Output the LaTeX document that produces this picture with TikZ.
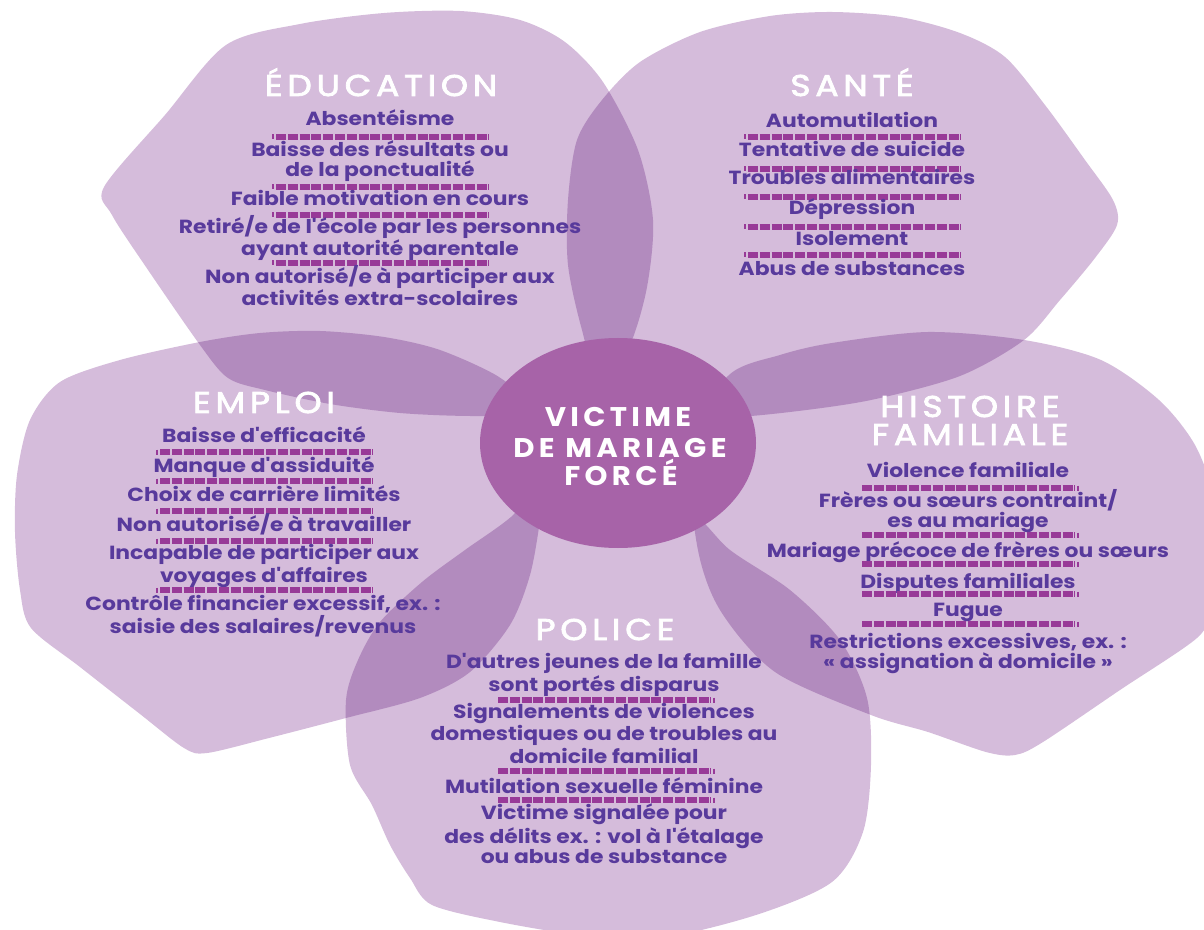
\documentclass[tikz,border=0pt]{standalone}
\usepackage{fontspec}
\setmainfont{Poppins}[FakeStretch=1.15, Ligatures=TeXOff]
\newfontfamily\titlefont{Poppins}[LetterSpace=16, FakeStretch=1.15, FakeBold=2.6]
\newfontfamily\corefont{Poppins}[LetterSpace=16, FakeStretch=1.08]
\definecolor{petal}{RGB}{213,188,219}
\definecolor{petaldark}{RGB}{178,139,190}
\definecolor{core}{RGB}{167,99,168}
\definecolor{txt}{RGB}{88,58,156}
\definecolor{sepc}{RGB}{152,58,152}
\tikzset{
  item/.style={anchor=base, align=center, text=txt, inner sep=0pt,
    font=\bfseries\fontsize{9.5}{10}\selectfont},
  ptitle/.style={anchor=base, align=center, text=white, inner sep=0pt,
    font=\titlefont\fontsize{15}{14}\selectfont},
  coretext/.style={anchor=base, align=center, text=white, inner sep=0pt,
    font=\corefont\bfseries\fontsize{13.5}{15}\selectfont},
  sepline/.style={draw=sepc, line width=2.6pt, dash pattern=on 5pt off 0.9pt},
  septick/.style={draw=sepc, line width=0.6pt}
}
% separator, tick on the left
\newcommand\sepl[2]{%
  \draw[sepline] (#1-105,#2) -- (#1+108,#2);
  \draw[septick] (#1-108,#2-2.5) -- (#1-108,#2+2.5);}
% separator, tick on the right
\newcommand\sepr[2]{%
  \draw[sepline] (#1-108,#2) -- (#1+105,#2);
  \draw[septick] (#1+108,#2-2.5) -- (#1+108,#2+2.5);}
\def\pEdu{plot[smooth cycle] coordinates {(226,45) (300,24) (384,13) (460,11) (520,20) (565,42) (603,82) (638,150) (653,220) (647,287) (630,345) (600,395) (540,414) (470,416) (400,413) (330,404) (265,390) (228,378) (200,345) (146,267) (112,215) (104,187) (165,115)}}
\def\pSan{plot[smooth cycle] coordinates {(600,380) (582,330) (568,265) (568,200) (577,140) (602,100) (640,62) (700,32) (770,16) (832,12) (900,17) (960,33) (1005,57) (1045,105) (1085,160) (1113,200) (1117,225) (1095,258) (1060,300) (1024,340) (960,376) (871,400) (790,412) (720,418) (660,415)}}
\def\pHis{plot[smooth cycle] coordinates {(690,440) (729,375) (780,355) (832,343) (928,332) (1024,340) (1101,360) (1159,400) (1195,445) (1215,500) (1220,560) (1210,610) (1197,638) (1120,690) (1043,742) (1015,755) (986,752) (928,732) (871,715) (775,672) (720,610) (697,545)}}
\def\pPol{plot[smooth cycle] coordinates {(560,470) (511,517) (465,550) (422,582) (380,622) (358,660) (346,700) (350,765) (372,805) (390,845) (410,878) (432,905) (500,922) (580,935) (660,938) (756,915) (832,882) (863,832) (871,765) (867,698) (840,640) (790,590) (730,550) (680,505)}}
\def\pEmp{plot[smooth cycle] coordinates {(545,470) (525,405) (499,377) (440,350) (384,337) (320,331) (260,333) (200,342) (120,360) (60,382) (30,420) (17,475) (15,532) (20,590) (31,628) (80,667) (140,714) (184,748) (207,753) (269,738) (346,718) (420,698) (470,672) (510,625) (530,575) (540,520)}}
\begin{document}
\begin{tikzpicture}[x=0.5pt,y=-0.5pt]
\useasboundingbox (0,0) rectangle (1204,930);
\clip (0,0) rectangle (1204,930);
% petals
\fill[petal] \pEdu;
\fill[petal] \pSan;
\fill[petal] \pHis;
\fill[petal] \pPol;
\fill[petal] \pEmp;
% overlaps
\begin{scope}\clip \pEdu; \fill[petaldark] \pSan; \end{scope}
\begin{scope}\clip \pSan; \fill[petaldark] \pHis; \end{scope}
\begin{scope}\clip \pHis; \fill[petaldark] \pPol; \end{scope}
\begin{scope}\clip \pPol; \fill[petaldark] \pEmp; \end{scope}
\begin{scope}\clip \pEmp; \fill[petaldark] \pEdu; \end{scope}
% centre
\fill[core] (618,443) ellipse [x radius=138, y radius=105];
\node[coretext] (core1) at (618,427) {VICTIME};
\node[coretext] (core2) at (620,457) {DE MARIAGE};
\node[coretext] (core3) at (621,485) {FORCÉ};
% Education
\node[ptitle] (edt) at (381,96) {ÉDUCATION};
\node[item] (ed1) at (380,126) {Absentéisme};
\sepl{381}{137}
\node[item] (ed2) at (380,177) {Baisse des résultats ou\\de la ponctualité};
\sepl{381}{187}
\node[item] (ed3) at (380,206) {Faible motivation en cours};
\sepl{381}{215}
\node[item] (ed4) at (380,256) {Retiré/e de l'école par les personnes\\ayant autorité parentale};
\sepl{381}{263}
\node[item] (ed5) at (380,306) {Non autorisé/e à participer aux\\activités extra-scolaires};
% Sante
\node[ptitle] (sat) at (852,96) {SANTÉ};
\node[item] (sa1) at (852,128) {Automutilation};
\sepl{853}{137}
\node[item] (sa2) at (852,157) {Tentative de suicide};
\sepl{853}{169}
\node[item] (sa3) at (852,185) {Troubles alimentaires};
\sepl{853}{197}
\node[item] (sa4) at (852,215) {Dépression};
\sepl{853}{227}
\node[item] (sa5) at (852,246) {Isolement};
\sepl{853}{255}
\node[item] (sa6) at (852,276) {Abus de substances};
% Emploi
\node[ptitle] (emt) at (264,413) {EMPLOI};
\node[item] (em1) at (264,443) {Baisse d'efficacité};
\sepl{265}{452}
\node[item] (em2) at (264,472) {Manque d'assiduité};
\sepl{265}{481}
\node[item] (em3) at (264,501) {Choix de carrière limités};
\sepl{265}{511}
\node[item] (em4) at (264,531) {Non autorisé/e à travailler};
\sepl{265}{541}
\node[item] (em5) at (264,582) {Incapable de participer aux\\voyages d'affaires};
\sepl{265}{590}
\node[item] (em6) at (263,633) {Contrôle financier excessif, ex. :\\saisie des salaires/revenus};
% Histoire familiale
\node[ptitle] (hit1) at (970,417) {HISTOIRE};
\node[ptitle] (hit2) at (970,445) {FAMILIALE};
\node[item] (hi1) at (968,477) {Violence familiale};
\sepr{970}{488}
\node[item] (hi2) at (968,527) {Frères ou sœurs contraint/\\es au mariage};
\sepr{970}{535}
\node[item] (hi3) at (968,557) {Mariage précoce de frères ou sœurs};
\sepr{970}{564}
\node[item] (hi4) at (968,588) {Disputes familiales};
\sepr{970}{594}
\node[item] (hi5) at (968,616) {Fugue};
\sepr{970}{624}
\node[item] (hi6) at (968,668) {Restrictions excessives, ex. :\\« assignation à domicile »};
% Police
\node[ptitle] (pot) at (605,640) {POLICE};
\node[item] (po1) at (604,691) {D'autres jeunes de la famille\\sont portés disparus};
\sepr{606}{700}
\node[item] (po2) at (604,763) {Signalements de violences\\domestiques ou de troubles au\\domicile familial};
\sepr{606}{771}
\node[item] (po3) at (604,793) {Mutilation sexuelle féminine};
\sepr{606}{800}
\node[item] (po4) at (604,863) {Victime signalée pour\\des délits ex. : vol à l'étalage\\ou abus de substance};
\end{tikzpicture}
\end{document}
